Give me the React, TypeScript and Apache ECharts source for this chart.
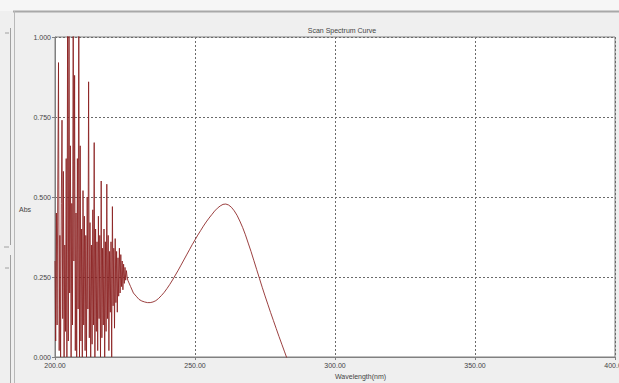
import React, { useEffect, useRef } from "react";
import * as echarts from "echarts";

// Noisy part of the scan: 200.00 nm to 226.00 nm, one reading every 0.25 nm
const noiseStartNm = 200;
const noiseStepNm = 0.25;
const noiseAbs = [
  0.30, 0.05, 0.45, 0.10, 0.55, 0.92, 0.02, 0.38, 0.00, 0.48,
  0.74, 0.12, 0.58, 0.00, 0.35, 0.08, 0.62, 0.00, 1.05, 0.05,
  1.10, 0.20, 0.66, 0.00, 0.48, 0.10, 1.20, 0.30, 0.88, 0.02,
  0.45, 0.00, 0.62, 0.15, 1.15, 0.00, 0.66, 0.05, 0.40, 0.00,
  0.52, 0.10, 0.44, 0.02, 0.38, 0.00, 0.50, 0.15, 0.86, 0.06,
  0.42, 0.00, 0.35, 0.04, 0.46, 0.10, 0.67, 0.00, 0.40, 0.08,
  0.36, 0.02, 0.44, 0.12, 0.38, 0.00, 0.55, 0.06, 0.34, 0.10,
  0.40, 0.00, 0.36, 0.08, 0.54, 0.12, 0.38, 0.02, 0.33, 0.14,
  0.36, 0.00, 0.47, 0.16, 0.34, 0.09, 0.37, 0.17, 0.33, 0.14,
  0.31, 0.19, 0.34, 0.20, 0.32, 0.22, 0.30, 0.21, 0.29, 0.23,
  0.28, 0.24, 0.27, 0.25, 0.24,
];

// Smooth part: 227 nm to 283 nm, one reading per nm
const smoothStartNm = 227;
const smoothAbs = [
  0.22, 0.20, 0.19, 0.180, 0.175, 0.172, 0.170, 0.170, 0.172, 0.176,
  0.183, 0.192, 0.202, 0.214, 0.227, 0.241, 0.256, 0.271, 0.287, 0.303,
  0.319, 0.335, 0.351, 0.366, 0.381, 0.395, 0.409, 0.422, 0.434, 0.445,
  0.456, 0.465, 0.472, 0.477, 0.478, 0.475, 0.468, 0.457, 0.443, 0.425,
  0.405, 0.382, 0.356, 0.330, 0.302, 0.274, 0.246, 0.218, 0.191, 0.165,
  0.139, 0.114, 0.089, 0.064, 0.040, 0.016, -0.008,
];

const xTicks = [200, 250, 300, 350, 400];
const yTicks = [0, 0.25, 0.5, 0.75, 1];

const chartTitle = "Scan Spectrum Curve";
const xName = "Wavelength(nm)";
const yName = "Abs";

export default function App() {
  const ref = useRef<HTMLDivElement>(null);

  useEffect(() => {
    if (!ref.current) return;
    const chart = echarts.init(ref.current, null, { renderer: "svg" });

    const points: [number, number][] = [];
    noiseAbs.forEach((v, i) => points.push([noiseStartNm + i * noiseStepNm, v]));
    smoothAbs.forEach((v, i) => points.push([smoothStartNm + i, v]));

    const font = "Liberation Sans";
    const lineCol = "#8a1f1f";
    const gridCol = "#6a6a6a";

    chart.setOption({
      animation: false,
      backgroundColor: "#efefef",
      title: {
        text: chartTitle,
        left: 337,
        top: 22,
        textAlign: "center",
        textStyle: { fontSize: 7, fontWeight: "normal", color: "#444", fontFamily: font },
      },
      grid: {
        left: 55,
        right: 4,
        top: 37,
        bottom: 26,
        containLabel: false,
        outerBoundsMode: "none",
        show: true,
        backgroundColor: "#ffffff",
        borderColor: "#808080",
        borderWidth: 1,
      },
      xAxis: {
        type: "value",
        min: xTicks[0],
        max: xTicks[xTicks.length - 1],
        interval: 50,
        axisLine: { show: true, lineStyle: { color: "#808080" } },
        axisTick: { show: true, length: 3, lineStyle: { color: "#808080" } },
        axisLabel: {
          fontSize: 7,
          color: "#444",
          fontFamily: font,
          margin: 5,
          formatter: (v: number) => v.toFixed(2),
        },
        splitLine: { show: true, lineStyle: { type: [2, 2], color: gridCol, width: 1 } },
      },
      yAxis: {
        type: "value",
        min: yTicks[0],
        max: yTicks[yTicks.length - 1],
        interval: 0.25,
        axisLine: { show: true, lineStyle: { color: "#808080" } },
        axisTick: { show: true, length: 3, lineStyle: { color: "#808080" } },
        axisLabel: {
          fontSize: 7,
          color: "#444",
          fontFamily: font,
          margin: 4,
          formatter: (v: number) => v.toFixed(3),
        },
        splitLine: { show: true, lineStyle: { type: [2, 2], color: gridCol, width: 1 } },
      },
      graphic: [
        { type: "rect", shape: { x: 0, y: 0, width: 619, height: 11 }, style: { fill: "#f6f6f6" }, silent: true },
        { type: "line", shape: { x1: 13, y1: 11.5, x2: 619, y2: 11.5 }, style: { stroke: "#a8a8a8", lineWidth: 2 } },
        { type: "line", shape: { x1: 14.5, y1: 11, x2: 14.5, y2: 383 }, style: { stroke: "#b8b8b8", lineWidth: 1 } },
        { type: "line", shape: { x1: 10.5, y1: 28, x2: 10.5, y2: 245 }, style: { stroke: "#a0a0a0", lineWidth: 1 } },
        { type: "line", shape: { x1: 10.5, y1: 255, x2: 10.5, y2: 383 }, style: { stroke: "#a0a0a0", lineWidth: 1 } },
        { type: "line", shape: { x1: 5, y1: 33, x2: 9, y2: 33 }, style: { stroke: "#a0a0a0", lineWidth: 1 } },
        { type: "line", shape: { x1: 4, y1: 247, x2: 9, y2: 247 }, style: { stroke: "#a0a0a0", lineWidth: 1 } },
        { type: "line", shape: { x1: 5, y1: 268, x2: 9, y2: 268 }, style: { stroke: "#a0a0a0", lineWidth: 1 } },
        {
          type: "text",
          left: 19,
          top: 206,
          style: { text: yName, fontSize: 7, fill: "#444", fontFamily: font },
        },
        {
          type: "text",
          left: 335,
          top: 373,
          style: { text: xName, fontSize: 7, fill: "#444", fontFamily: font, align: "center" },
        },
      ],
      series: [
        {
          type: "line",
          data: points,
          showSymbol: false,
          symbol: "none",
          clip: true,
          lineStyle: { color: lineCol, width: 1, opacity: 0.85 },
        },
      ],
    });

    return () => chart.dispose();
  }, []);

  return (
    <div
      ref={ref}
      style={{ position: "fixed", left: 0, top: 0, width: 619, height: 383 }}
    />
  );
}
